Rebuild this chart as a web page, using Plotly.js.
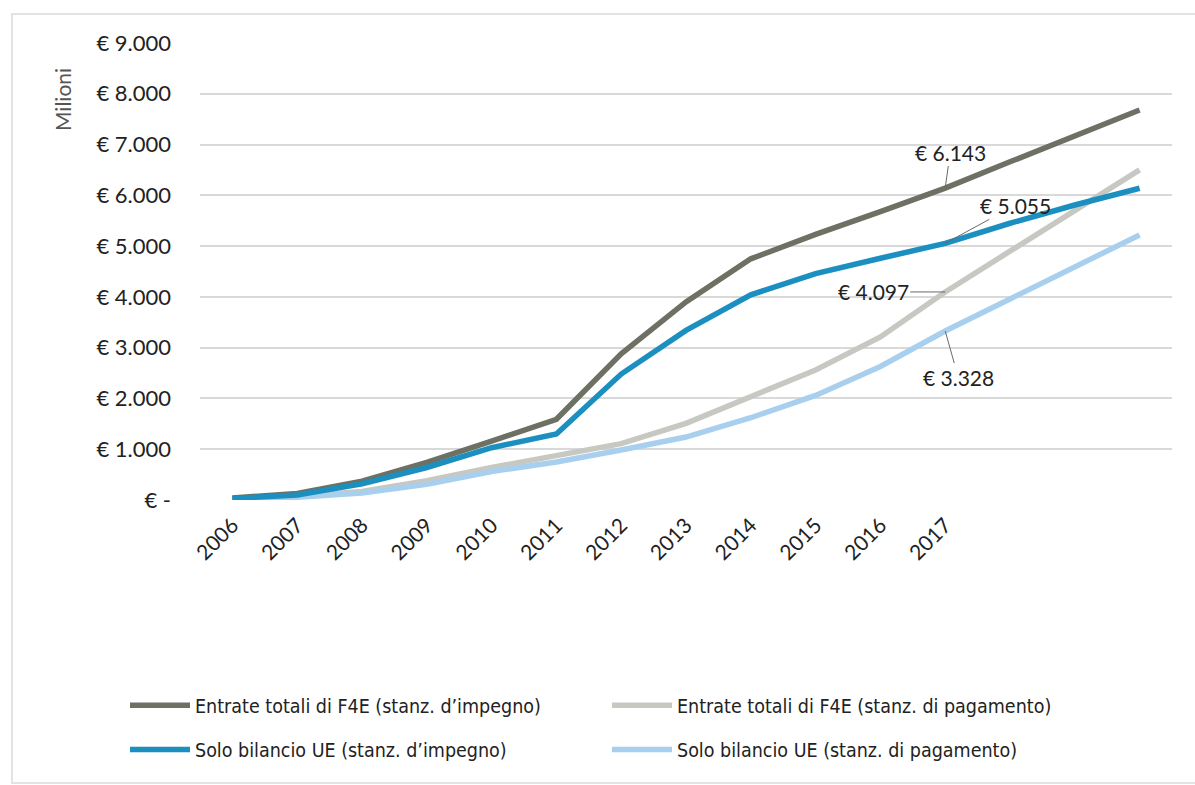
<!DOCTYPE html>
<html>
<head>
<meta charset="utf-8">
<script src="https://cdn.plot.ly/plotly-3.0.1.min.js"></script>
<style>
  html, body { margin: 0; padding: 0; background: #ffffff; }
  #chart { width: 1195px; height: 785px; }
</style>
</head>
<body>
<div id="chart"></div>
<script>
// Categories (years) — only 2006–2017 carry tick labels in the original
const years = ['2006','2007','2008','2009','2010','2011','2012','2013','2014','2015','2016','2017','2018','2019','2020'];
const tickLabels = ['2006','2007','2008','2009','2010','2011','2012','2013','2014','2015','2016','2017'];

// Series (milioni di euro)
const f4eImpegno   = [40, 130, 370, 740, 1160, 1590, 2880, 3900, 4750, 5230, 5680, 6143, 6660, 7180, 7680];
const f4ePagamento = [20, 70, 170, 380, 640, 880, 1110, 1510, 2040, 2560, 3210, 4097, 4900, 5700, 6500];
const ueImpegno    = [30, 100, 320, 640, 1030, 1300, 2480, 3340, 4040, 4460, 4760, 5055, 5450, 5810, 6140];
const uePagamento  = [20, 55, 140, 310, 560, 750, 985, 1240, 1620, 2060, 2630, 3328, 3960, 4590, 5220];

const seriesNames = [
  'Entrate totali di F4E (stanz. d\u2019impegno)',
  'Entrate totali di F4E (stanz. di pagamento)',
  'Solo bilancio UE (stanz. d\u2019impegno)',
  'Solo bilancio UE (stanz. di pagamento)'
];

// Y axis ticks
const yTickVals = [0, 1000, 2000, 3000, 4000, 5000, 6000, 7000, 8000, 9000];
const yTickText = ['\u20ac -', '\u20ac 1.000', '\u20ac 2.000', '\u20ac 3.000', '\u20ac 4.000', '\u20ac 5.000', '\u20ac 6.000', '\u20ac 7.000', '\u20ac 8.000', '\u20ac 9.000'];

// Labelled year
const labelYear = '2017';

const colors = { darkGrey: '#6d7164', lightGrey: '#c8c8c2', blue: '#1a8fc0', lightBlue: '#a8d0ee' };

function euro(v) {
  return '\u20ac ' + String(v).replace(/\B(?=(\d{3})+(?!\d))/g, '.');
}

const mainFont = 'Lato, "Open Sans", sans-serif';
const legendFont = '"Liberation Sans Narrow", "DejaVu Sans Condensed", "Noto Sans", sans-serif';

const lw = 5.5;
const traces = [
  { x: years, y: f4ePagamento, name: seriesNames[1], mode: 'lines', line: { color: colors.lightGrey, width: lw }, legend: 'legend2', legendgroup: 'b1' },
  { x: years, y: uePagamento,  name: seriesNames[3], mode: 'lines', line: { color: colors.lightBlue, width: lw }, legend: 'legend2', legendgroup: 'b2' },
  { x: years, y: f4eImpegno,   name: seriesNames[0], mode: 'lines', line: { color: colors.darkGrey, width: lw }, legend: 'legend', legendgroup: 'a1' },
  { x: years, y: ueImpegno,    name: seriesNames[2], mode: 'lines', line: { color: colors.blue, width: lw }, legend: 'legend', legendgroup: 'a2' }
];

const idx = years.indexOf(labelYear);
const annSpec = [
  { s: f4eImpegno,   ax: 5,   ay: -36 },
  { s: ueImpegno,    ax: 70,  ay: -38 },
  { s: f4ePagamento, ax: -72, ay: 0 },
  { s: uePagamento,  ax: 13,  ay: 46 }
];
const annotations = annSpec.map(a => ({
  x: idx, y: a.s[idx], xref: 'x', yref: 'y',
  text: euro(a.s[idx]),
  showarrow: true, arrowhead: 0, arrowwidth: 1, arrowcolor: '#6a6a6a',
  ax: a.ax, ay: a.ay,
  font: { family: mainFont, size: 21, color: '#222222' }
}));

annotations.push({
  xref: 'paper', yref: 'paper',
  x: (62 - 200) / 972, y: (500 - 100) / 457,
  xanchor: 'center', yanchor: 'middle',
  text: 'Milioni', showarrow: false, textangle: -90,
  font: { family: mainFont, size: 21, color: '#555555' }
});

const legendCommon = {
  orientation: 'v',
  font: { family: legendFont, size: 19.5, color: '#222222' },
  bgcolor: 'rgba(0,0,0,0)',
  tracegroupgap: 16,
  xanchor: 'left', yanchor: 'top',
  itemwidth: 60
};

const layout = {
  width: 1195, height: 785,
  margin: { l: 200, r: 23, t: 43, b: 285 },
  paper_bgcolor: '#ffffff', plot_bgcolor: '#ffffff',
  showlegend: true,
  xaxis: {
    type: 'category',
    categoryorder: 'array', categoryarray: years,
    range: [-0.5, years.length - 0.5],
    tickvals: tickLabels, ticktext: tickLabels,
    tickangle: -45,
    showgrid: false, zeroline: false, showline: false,
    ticks: '', ticklabelstandoff: 8,
    tickfont: { family: mainFont, size: 21, color: '#222222' },
    fixedrange: true
  },
  yaxis: {
    range: [0, 9000],
    tickvals: yTickVals, ticktext: yTickText,
    showgrid: true, gridcolor: '#d9d9d9', gridwidth: 2,
    zeroline: false, showline: false,
    ticks: '', ticklabelstandoff: 28,
    tickfont: { family: mainFont, size: 22, color: '#222222' },
    fixedrange: true
  },
  legend: Object.assign({}, legendCommon, { x: (125 - 200) / 972, y: (500 - 686) / 457 }),
  legend2: Object.assign({}, legendCommon, { x: (607 - 200) / 972, y: (500 - 686) / 457 }),
  annotations: annotations,
  shapes: [{
    type: 'rect', xref: 'paper', yref: 'paper',
    x0: (12 - 200) / 972, x1: (1200 - 200) / 972,
    y0: (500 - 783) / 457, y1: (500 - 14) / 457,
    line: { color: '#e3e3e3', width: 2 }, fillcolor: 'rgba(0,0,0,0)', layer: 'below'
  }]
};

Plotly.newPlot('chart', traces, layout, { staticPlot: true, displayModeBar: false });
</script>
</body>
</html>
